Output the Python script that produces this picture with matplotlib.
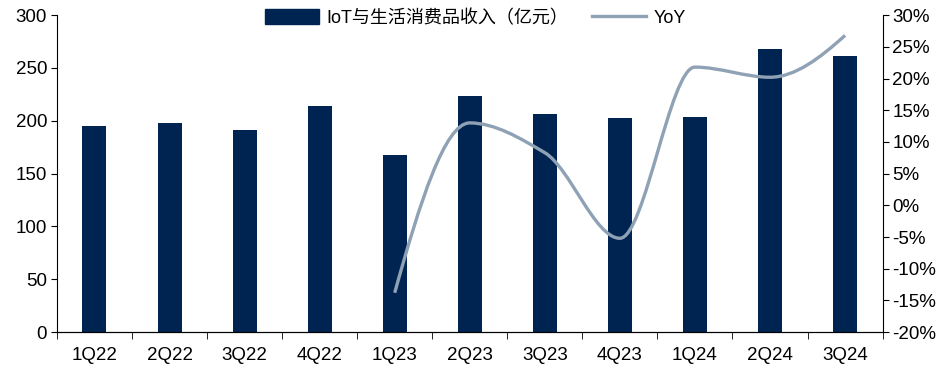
import numpy as np
import matplotlib.pyplot as plt
from matplotlib.path import Path
from matplotlib.patches import PathPatch, Patch
from matplotlib.lines import Line2D
from matplotlib.ticker import FuncFormatter

plt.rcParams['font.family'] = ['Liberation Sans', 'Noto Sans CJK SC', 'DejaVu Sans']

quarters = ['1Q22', '2Q22', '3Q22', '4Q22', '1Q23', '2Q23', '3Q23', '4Q23', '1Q24', '2Q24', '3Q24']
revenue = [195, 198, 191, 214, 168, 223, 206, 203, 204, 268, 261]
yoy_quarters = quarters[4:]
yoy = [-13.8, 13.0, 8.3, -5.2, 21.8, 20.2, 26.8]

bar_color = '#002452'
line_color = '#8fa1b5'


def monotone_path(xs, ys):
    # Fritsch-Carlson monotone cubic, written as bezier segments
    xs = np.asarray(xs, float)
    ys = np.asarray(ys, float)
    n = len(xs)
    h = np.diff(xs)
    delta = np.diff(ys) / h
    d = np.zeros(n)
    for k in range(1, n - 1):
        if delta[k - 1] * delta[k] > 0:
            w1 = 2 * h[k] + h[k - 1]
            w2 = h[k] + 2 * h[k - 1]
            d[k] = (w1 + w2) / (w1 / delta[k - 1] + w2 / delta[k])

    def end_slope(h0, h1, m0, m1):
        s = ((2 * h0 + h1) * m0 - h0 * m1) / (h0 + h1)
        if np.sign(s) != np.sign(m0):
            return 0.0
        if np.sign(m0) != np.sign(m1) and abs(s) > abs(3 * m0):
            return 3 * m0
        return s

    d[0] = end_slope(h[0], h[1], delta[0], delta[1])
    d[-1] = end_slope(h[-1], h[-2], delta[-1], delta[-2])

    verts = [(xs[0], ys[0])]
    codes = [Path.MOVETO]
    for k in range(n - 1):
        verts += [(xs[k] + h[k] / 3, ys[k] + d[k] * h[k] / 3),
                  (xs[k + 1] - h[k] / 3, ys[k + 1] - d[k + 1] * h[k] / 3),
                  (xs[k + 1], ys[k + 1])]
        codes += [Path.CURVE4] * 3
    return Path(verts, codes)


fig = plt.figure(figsize=(9.49, 3.69), dpi=100)
ax = fig.add_axes([0.060, 0.100, 0.870, 0.859])
x = np.arange(len(quarters))
ax.bar(x, revenue, width=0.32, color=bar_color, zorder=2)
ax.set_xlim(-0.5, len(quarters) - 0.5)
ax.set_ylim(0, 300)
ax.set_yticks(range(0, 301, 50))
ax.set_xticks(x)
ax.set_xticklabels(quarters)
ax.set_xticks(np.arange(-0.5, len(quarters), 1), minor=True)
ax.tick_params(axis='x', which='major', length=0, pad=11, labelsize=13.5)
ax.tick_params(axis='x', which='minor', length=5, direction='out')
ax.tick_params(axis='y', length=4, direction='out', labelsize=13.5, pad=3)
ax.spines['top'].set_visible(False)
ax.spines['right'].set_visible(False)

ax2 = ax.twinx()
ax2.set_ylim(-20, 30)
ax2.set_yticks(range(-20, 31, 5))
ax2.yaxis.set_major_formatter(FuncFormatter(lambda v, p: f'{v:.0f}%'))
ax2.tick_params(axis='y', length=4, direction='out', labelsize=13.5, pad=3)
ax2.spines['top'].set_visible(False)
ax2.spines['left'].set_visible(False)
yoy_x = [quarters.index(q) for q in yoy_quarters]
ax2.add_patch(PathPatch(monotone_path(yoy_x, yoy), facecolor='none',
                        edgecolor=line_color, lw=2.4, zorder=3))

handles = [Patch(color=bar_color), Line2D([], [], color=line_color, lw=2.4)]
ax.legend(handles, ['IoT与生活消费品收入（亿元）', 'YoY'], loc='upper center',
          bbox_to_anchor=(0.507, 1.07), ncol=2, frameon=False, fontsize=13,
          handlelength=3.0, handleheight=0.9, columnspacing=1.3, handletextpad=0.4)

fig.savefig('out.png', dpi=100)
